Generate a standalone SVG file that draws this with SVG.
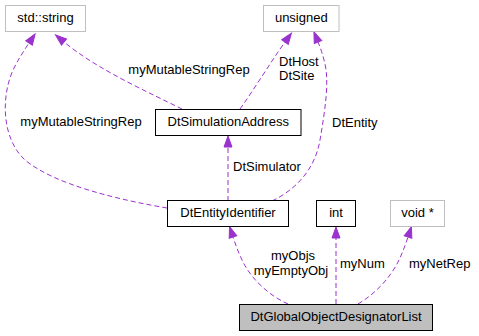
<svg xmlns="http://www.w3.org/2000/svg" width="479" height="336" viewBox="0 0 479 336">
<style>
text{font-family:"Liberation Sans",Arial,sans-serif;font-size:13px;fill:#000}
.n{fill:#fff;stroke:#000;stroke-width:1}
.g{fill:#fff;stroke:#bfbfbf;stroke-width:1}
.m{fill:#bfbfbf;stroke:#000;stroke-width:1}
.e{fill:none;stroke:#9a32cd;stroke-width:1;stroke-dasharray:5,3}
.c{text-anchor:middle}
</style>
<defs>
<marker id="ah" markerWidth="11" markerHeight="8" refX="0" refY="4" orient="auto" markerUnits="userSpaceOnUse" overflow="visible">
<path d="M0,0 L11,4 L0,8 z" fill="#9a32cd" stroke="#9a32cd" stroke-width="1" stroke-dasharray="none"/>
</marker>
</defs>
<rect width="479" height="336" fill="#fff"/>
<g id="connectors">
<path class="e" marker-end="url(#ah)" d="M182,109 C150,93 98,70 64,42"/>
<path class="e" marker-end="url(#ah)" d="M167,208 C120,200 55,185 25,160 C3,140 0,100 13,70 C18,60 23,52 29,43"/>
<path class="e" marker-end="url(#ah)" d="M240,109 C255,88 272,60 285,42"/>
<path class="e" marker-end="url(#ah)" d="M272,201 C295,190 315,170 320,140 C325,110 330,80 324,60 C322,52 320,47 318,42"/>
<path class="e" marker-end="url(#ah)" d="M228,201 L228,147"/>
<path class="e" marker-end="url(#ah)" d="M288,304 C270,296 252,280 243,262 C239,254 236,246 233,237"/>
<path class="e" marker-end="url(#ah)" d="M336,304 L336,238"/>
<path class="e" marker-end="url(#ah)" d="M358,304 C375,294 390,278 398,262 C402,254 405,246 408,237"/>
<text x="189" y="74" class="c">myMutableStringRep</text>
<text x="81" y="126" class="c">myMutableStringRep</text>
<text x="279" y="66">DtHost</text>
<text x="279" y="80">DtSite</text>
<text x="332" y="127">DtEntity</text>
<text x="233" y="171">DtSimulator</text>
<text x="293" y="260" class="c">myObjs</text>
<text x="291" y="275" class="c">myEmptyObj</text>
<text x="340" y="268">myNum</text>
<text x="409" y="268">myNetRep</text>
</g>
<g id="node-std-string">
<rect class="g" x="5.5" y="5.5" width="80" height="26"/>
<text x="45.5" y="22" class="c">std::string</text>
</g>
<g id="node-unsigned">
<rect class="g" x="263.5" y="5.5" width="75.5" height="26"/>
<text x="301.3" y="22" class="c">unsigned</text>
</g>
<g id="node-DtSimulationAddress">
<rect class="n" x="155.5" y="109.5" width="145.5" height="26"/>
<text x="228.2" y="126" class="c">DtSimulationAddress</text>
</g>
<g id="node-DtEntityIdentifier">
<rect class="n" x="167.5" y="200.5" width="121" height="26"/>
<text x="228" y="217" class="c">DtEntityIdentifier</text>
</g>
<g id="node-int">
<rect class="n" x="316.5" y="200.5" width="39" height="26"/>
<text x="336" y="217" class="c">int</text>
</g>
<g id="node-void">
<rect class="g" x="390.5" y="200.5" width="54" height="26"/>
<text x="417.5" y="217" class="c">void *</text>
</g>
<g id="node-DtGlobalObjectDesignatorList">
<rect class="m" x="239.5" y="304.5" width="193" height="26"/>
<text x="336" y="321" class="c">DtGlobalObjectDesignatorList</text>
</g>
</svg>
